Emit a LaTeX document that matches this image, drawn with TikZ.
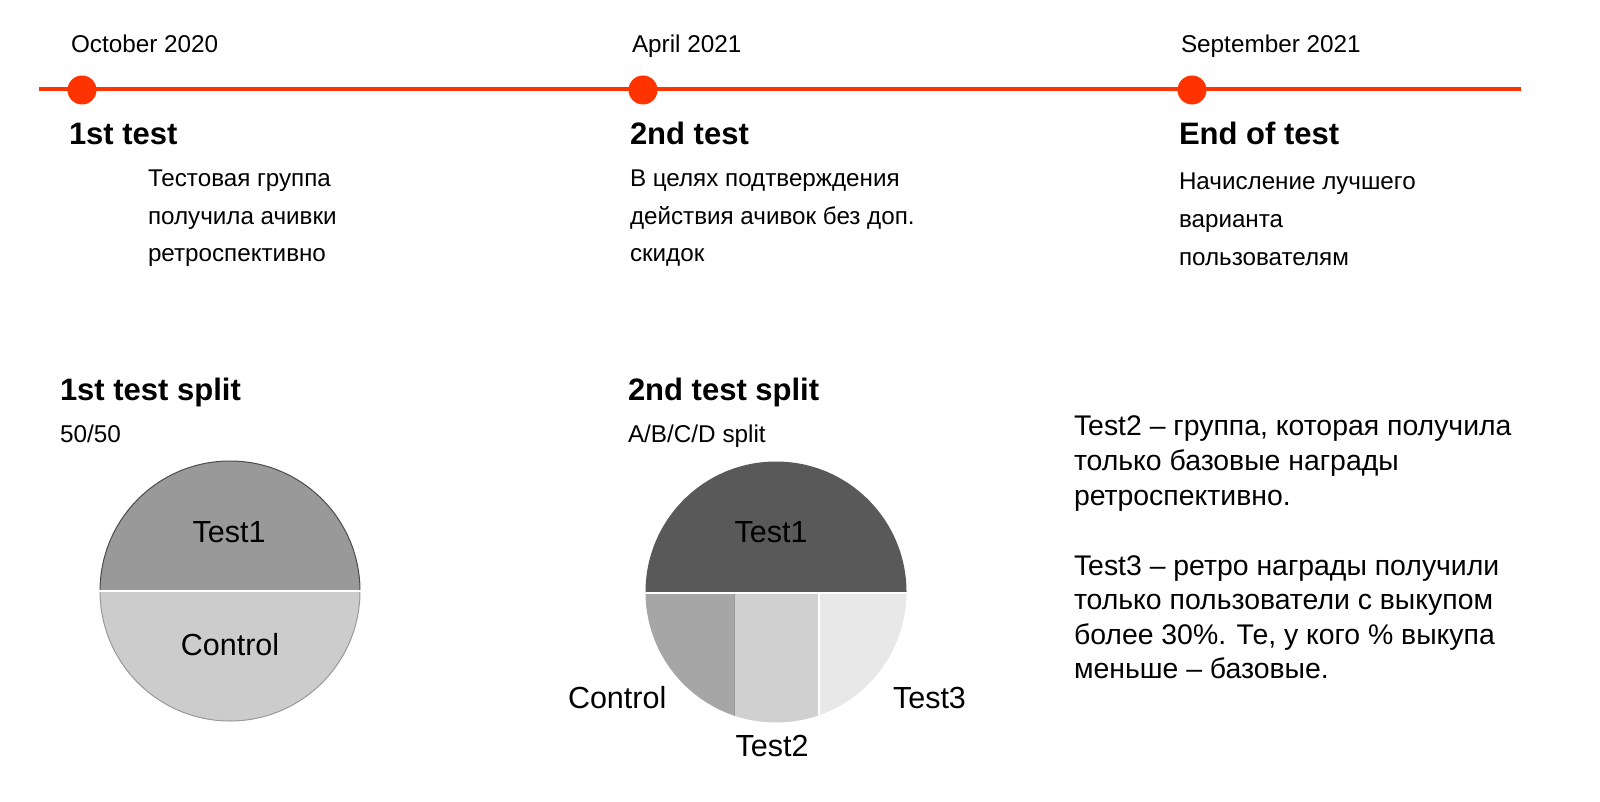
\documentclass[tikz,border=0pt]{standalone}
\usepackage{fontspec}
\setmainfont{Liberation Sans}
\definecolor{tlred}{HTML}{FF3300}
\definecolor{pieA}{HTML}{999999}
\definecolor{pieB}{HTML}{CCCCCC}
\definecolor{pieDark}{HTML}{595959}
\definecolor{pieC}{HTML}{A6A6A6}
\definecolor{pieD}{HTML}{D0D0D0}
\definecolor{pieE}{HTML}{E8E8E8}
\newcommand{\fs}[2]{\fontsize{#1}{#2}\selectfont}
\begin{document}
\begin{tikzpicture}[x=1pt,y=-1pt,
  txt/.style={anchor=base west,inner sep=0pt,outer sep=0pt},
  date/.style={txt,font=\fs{24.3}{28}},
  head/.style={txt,font=\bfseries\fs{31}{35}},
  body/.style={txt,font=\fs{24.2}{38}},
  note/.style={txt,font=\fs{28.4}{34.5}},
  plabel/.style={anchor=base,inner sep=0pt,outer sep=0pt,font=\fs{30.5}{34}},
  dot/.style={circle,fill=tlred,minimum size=29pt,inner sep=0pt}]
\fill[white] (0,0) rectangle (1600,802);
\useasboundingbox (0,0) rectangle (1600,802);

% timeline
\coordinate (tlstart) at (39,89);
\coordinate (tlend) at (1521,89);
\draw[tlred,line width=4.5pt] (tlstart) -- (tlend);
\node[dot] (d1) at (82,90) {};
\node[dot] (d2) at (643,90) {};
\node[dot] (d3) at (1192,90) {};

\node[date] (date1) at (71,53) {October 2020};
\node[date] (date2) at (632,53) {April 2021};
\node[date] (date3) at (1181,53) {September 2021};

\node[head] (h1) at (69,145) {1st test};
\node[head] (h2) at (630,145) {2nd test};
\node[head] (h3) at (1179,145) {End of test};

\node[body] (b1) at (148,187) {\vtop{\baselineskip=37.5pt\hbox{Тестовая группа}\hbox{получила ачивки}\hbox{ретроспективно}}};
\node[body] (b2) at (630,187) {\vtop{\baselineskip=37.5pt\hbox{В целях подтверждения}\hbox{действия ачивок без доп.}\hbox{скидок}}};
\node[body] (b3) at (1179,190) {\vtop{\baselineskip=38pt\hbox{Начисление лучшего}\hbox{варианта}\hbox{пользователям}}};

% split titles
\node[head] (s1) at (60,400) {1st test split};
\node[date] (s1sub) at (60,442) {50/50};
\node[head] (s2) at (628,400) {2nd test split};
\node[date] (s2sub) at (628,442) {A/B/C/D split};

% pie 1
\coordinate (c1) at (230,591);
\begin{scope}
  \clip (c1) circle[radius=130];
  \fill[pieA] (90,450) rectangle (370,591);
  \fill[pieB] (90,591) rectangle (370,730);
\end{scope}
\begin{scope}
  \clip (90,450) rectangle (370,591);
  \draw[black!70,line width=1pt] (c1) circle[radius=130];
\end{scope}
\begin{scope}
  \clip (90,591) rectangle (370,730);
  \draw[pieA,line width=1pt] (c1) circle[radius=130];
\end{scope}
\draw[white,line width=2pt] (99,591) -- (361,591);
\node[plabel] (p1t1) at (229,542) {Test1};
\node[plabel] (p1c) at (230,655) {Control};

% pie 2
\coordinate (c2) at (776,592);
\begin{scope}
  \clip (c2) circle[radius=130.5];
  \fill[pieDark] (640,455) rectangle (912,592);
  \fill[pieC] (640,592) rectangle (734,730);
  \fill[pieD] (734,592) rectangle (818,730);
  \fill[pieE] (818,592) rectangle (912,730);
  \draw[white,line width=2.5pt] (640,593) -- (912,593);
  \draw[white,line width=2pt] (819,593) -- (819,730);
  \draw[black!40,line width=0.6pt] (734,594) -- (734,730);
\end{scope}
\node[plabel] (p2t1) at (771,542) {Test1};
\node[txt,font=\fs{30.5}{34}] (p2c) at (568,708) {Control};
\node[txt,font=\fs{30.5}{34}] (p2t3) at (893,708) {Test3};
\node[plabel] (p2t2) at (772,756) {Test2};

% notes
\node[note] (n1) at (1074,435) {\vtop{\baselineskip=35pt\hbox{Test2 – группа, которая получила}\hbox{только базовые награды}\hbox{ретроспективно.}}};
\node[note] (n2) at (1074,575) {\vtop{\baselineskip=34.5pt\hbox{Test3 – ретро награды получили}\hbox{только пользователи с выкупом}\hbox{более 30\%. Те, у кого \% выкупа}\hbox{меньше – базовые.}}};
\end{tikzpicture}
\end{document}
